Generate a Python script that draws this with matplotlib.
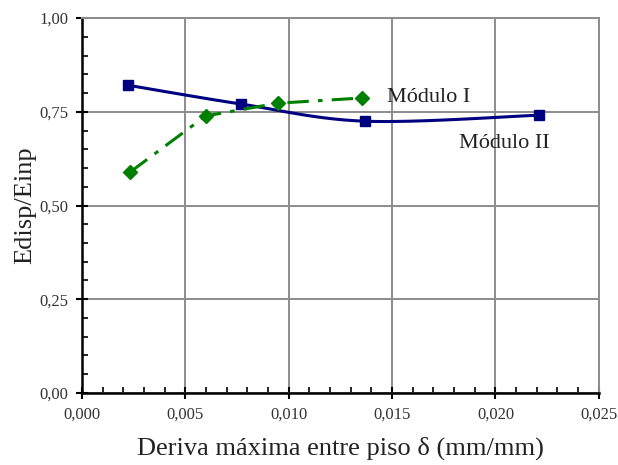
import numpy as np
import matplotlib
matplotlib.use("Agg")
import matplotlib.pyplot as plt
from matplotlib.ticker import MultipleLocator, FuncFormatter

# Data
mod1_x = [0.00232, 0.00598, 0.00946, 0.01356]
mod1_y = [0.589, 0.739, 0.773, 0.787]
mod2_x = [0.00222, 0.00767, 0.0137, 0.0221]
mod2_y = [0.821, 0.771, 0.725, 0.741]
label1 = "Módulo I"
label2 = "Módulo II"
xlabel = "Deriva máxima entre piso δ (mm/mm)"
ylabel = "Edisp/Einp"

plt.rcParams['font.family'] = ['Liberation Serif', 'DejaVu Serif']

def catmull(xs, ys, n=40):
    P = np.column_stack([xs, ys])
    P = np.vstack([P[0], P, P[-1]])
    out = []
    for i in range(1, len(P) - 2):
        p0, p1, p2, p3 = P[i-1], P[i], P[i+1], P[i+2]
        t = np.linspace(0, 1, n)[:, None]
        seg = 0.5 * ((2*p1) + (-p0 + p2)*t + (2*p0 - 5*p1 + 4*p2 - p3)*t**2 + (-p0 + 3*p1 - 3*p2 + p3)*t**3)
        out.append(seg)
    out = np.vstack(out)
    return out[:, 0], out[:, 1]

fig = plt.figure(figsize=(6.18, 4.65), dpi=100)
ax = fig.add_axes([0.1327, 0.155, 0.969 - 0.1327, 0.961 - 0.155])

ax.set_xlim(0, 0.025)
ax.set_ylim(0, 1.0)
ax.xaxis.set_major_locator(MultipleLocator(0.005))
ax.xaxis.set_minor_locator(MultipleLocator(0.001))
ax.yaxis.set_major_locator(MultipleLocator(0.25))
ax.yaxis.set_minor_locator(MultipleLocator(0.05))
ax.xaxis.set_major_formatter(FuncFormatter(lambda v, p: f"{v:.3f}".replace('.', ',')))
ax.yaxis.set_major_formatter(FuncFormatter(lambda v, p: f"{v:.2f}".replace('.', ',')))

ax.grid(True, which='major', color='#8c8c8c', linewidth=1.4)
ax.set_axisbelow(True)

for s in ['top', 'right']:
    ax.spines[s].set_color('#8c8c8c')
    ax.spines[s].set_linewidth(1.4)
for s in ['left', 'bottom']:
    ax.spines[s].set_color('black')
    ax.spines[s].set_linewidth(1.8)

ax.tick_params(which='major', direction='inout', length=8, width=1.5, labelsize=12, colors='black', labelcolor='#333333', pad=6)
ax.tick_params(which='minor', direction='in', length=4, width=1.2)
ax.tick_params(top=False, right=False, which='both')

sx, sy = catmull(mod2_x, mod2_y)
ax.plot(sx, sy, color='#000080', linewidth=2.2, zorder=3)
ax.plot(mod2_x, mod2_y, linestyle='none', marker='s', markersize=7, color='#000080', zorder=4)
ax.plot(mod1_x, mod1_y, color='#008000', linewidth=2.2, linestyle=(0, (7, 3, 1.5, 3)),
        marker='D', markersize=7, zorder=5)

ax.text(0.01475, 0.787, label1, fontsize=16, color='#222222', va='center', ha='left')
ax.text(0.01825, 0.665, label2, fontsize=16, color='#222222', va='center', ha='left')

ax.set_xlabel(xlabel, fontsize=19, color='#222222', labelpad=10)
ax.set_ylabel(ylabel, fontsize=19, color='#222222', labelpad=2)

fig.savefig("out.png", dpi=100)
